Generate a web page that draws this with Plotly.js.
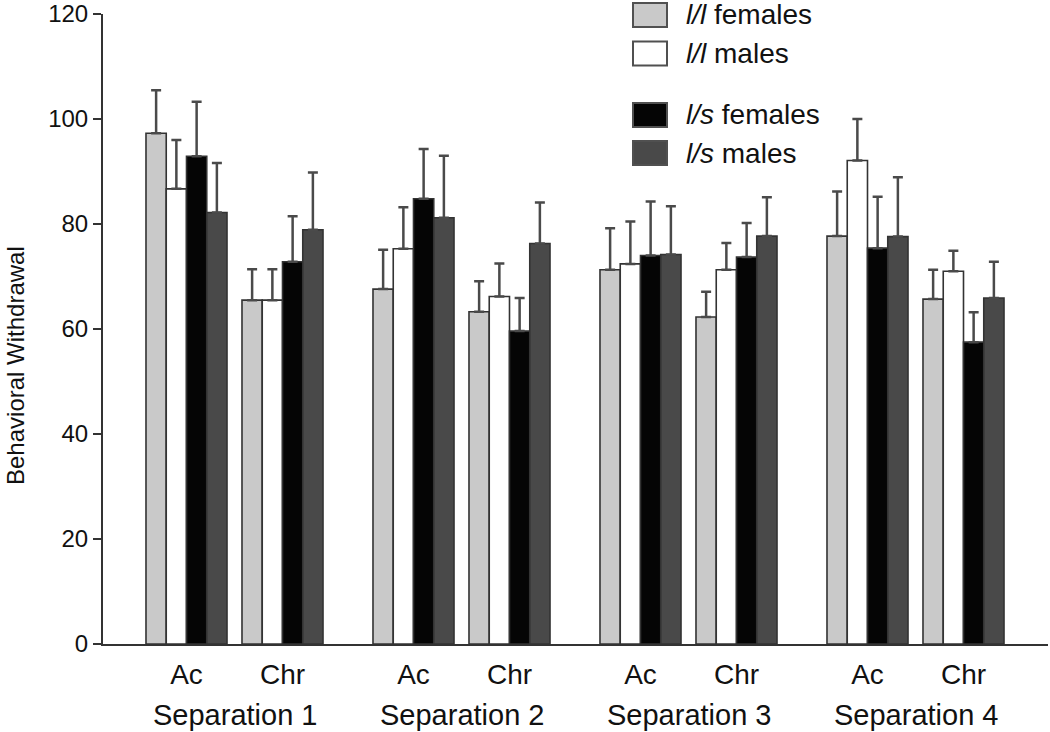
<!DOCTYPE html>
<html>
<head>
<meta charset="utf-8">
<script src="https://cdn.plot.ly/plotly-3.0.1.min.js"></script>
<style>html,body{margin:0;padding:0;background:#fff;}#chart{width:1050px;height:732px;}</style>
</head>
<body>
<div id="chart"></div>
<script>
// ---- data ----
const categories = ['Ac', 'Chr'];
const separations = ['Separation 1', 'Separation 2', 'Separation 3', 'Separation 4'];
const seriesNames = ['<i>l/l</i> females', '<i>l/l</i> males', '<i>l/s</i> females', '<i>l/s</i> males'];

// order: S1 Ac, S1 Chr, S2 Ac, S2 Chr, S3 Ac, S3 Chr, S4 Ac, S4 Chr
const llFemales    = [97.3, 65.5, 67.6, 63.3, 71.3, 62.3, 77.7, 65.7];
const llFemalesErr = [8.2, 5.9, 7.5, 5.8, 7.9, 4.8, 8.5, 5.6];
const llMales      = [86.7, 65.5, 75.3, 66.2, 72.4, 71.3, 92.1, 71.0];
const llMalesErr   = [9.3, 5.9, 7.9, 6.3, 8.1, 5.1, 7.9, 3.9];
const lsFemales    = [92.9, 72.8, 84.8, 59.6, 74.0, 73.7, 75.4, 57.5];
const lsFemalesErr = [10.4, 8.7, 9.5, 6.3, 10.3, 6.5, 9.8, 5.7];
const lsMales      = [82.2, 78.9, 81.2, 76.3, 74.2, 77.7, 77.6, 65.9];
const lsMalesErr   = [9.4, 10.9, 11.8, 7.8, 9.2, 7.4, 11.3, 6.9];

const yTicks = [0, 20, 40, 60, 80, 100, 120];

// ---- layout helpers (positions, not data) ----
const W = 1050, H = 732;
const M = {l: 103, r: 2, t: 14, b: 88};
const plotW = W - M.l - M.r, plotH = H - M.t - M.b;
const pxX = px => (px - M.l) / plotW;          // pixel -> paper x
const pxY = py => (H - M.b - py) / plotH;      // pixel -> paper y
const FONT = 'Liberation Sans, Arial, Helvetica, sans-serif';

// x positions of the 8 category groups (axis units = pixels inside plot)
const xPos = [], xText = [];
separations.forEach((s, si) => {
  categories.forEach((c, ci) => {
    xPos.push(83.5 + 227 * si + 96 * ci);
    xText.push(c);
  });
});

const seriesVals = [llFemales, llMales, lsFemales, lsMales];
const seriesErrs = [llFemalesErr, llMalesErr, lsFemalesErr, lsMalesErr];
const fills = ['#c9c9c9', '#ffffff', '#050505', '#494949'];

const traces = seriesVals.map((vals, i) => ({
  type: 'bar',
  name: seriesNames[i],
  x: xPos,
  y: vals,
  marker: {color: fills[i], line: {color: '#333333', width: 1.6}},
  error_y: {
    type: 'data', array: seriesErrs[i], arrayminus: vals.map(() => 0),
    symmetric: false, visible: true, color: '#4a4a4a', thickness: 2.5, width: 5
  },
  showlegend: false,
  hoverinfo: 'skip'
}));

const annotations = [];
// separation labels
separations.forEach((s, si) => {
  const mid = (xPos[2 * si] + xPos[2 * si + 1]) / 2;
  annotations.push({
    text: s, x: mid, xref: 'x', y: pxY(697), yref: 'paper',
    xanchor: 'center', yanchor: 'top', showarrow: false,
    font: {family: FONT, size: 29, color: '#111'}
  });
});
// y-axis title
annotations.push({
  text: 'Behavioral Withdrawal', textangle: -90,
  x: pxX(15), xref: 'paper', y: pxY(366), yref: 'paper',
  xanchor: 'center', yanchor: 'middle', showarrow: false,
  font: {family: 'Liberation Sans Narrow, Arial Narrow, ' + FONT, size: 24, color: '#111'}
});

// manual legend (large swatches like the reference)
const legendCenters = [15, 53.5, 115, 153];
const shapes = [];
legendCenters.forEach((cy, i) => {
  shapes.push({
    type: 'rect', xref: 'paper', yref: 'paper',
    x0: pxX(633), x1: pxX(667), y0: pxY(cy + 12), y1: pxY(cy - 12),
    fillcolor: fills[i], line: {color: '#505050', width: 2}
  });
  annotations.push({
    text: seriesNames[i], xref: 'paper', yref: 'paper',
    x: pxX(684), y: pxY(cy), xanchor: 'left', yanchor: 'middle', showarrow: false,
    font: {family: FONT, size: 28, color: '#111'}
  });
});

const layout = {
  width: W, height: H,
  margin: M,
  paper_bgcolor: '#ffffff', plot_bgcolor: '#ffffff',
  barmode: 'group', bargap: 0.156, bargroupgap: 0,
  showlegend: false,
  xaxis: {
    range: [0, plotW], tickvals: xPos, ticktext: xText,
    ticks: '', showgrid: false, zeroline: false,
    showline: true, linecolor: '#333', linewidth: 2,
    ticklabelstandoff: 4,
    tickfont: {family: FONT, size: 28, color: '#111'}
  },
  yaxis: {
    range: [0, 120], tickvals: yTicks, ticktext: yTicks.map(String),
    ticks: 'outside', ticklen: 8, tickwidth: 2, tickcolor: '#333',
    showgrid: false, zeroline: false,
    showline: true, linecolor: '#333', linewidth: 2,
    ticklabeloverflow: 'allow',
    tickfont: {family: FONT, size: 24, color: '#111'}
  },
  annotations: annotations,
  shapes: shapes
};

Plotly.newPlot('chart', traces, layout, {displayModeBar: false, staticPlot: true});
</script>
</body>
</html>
